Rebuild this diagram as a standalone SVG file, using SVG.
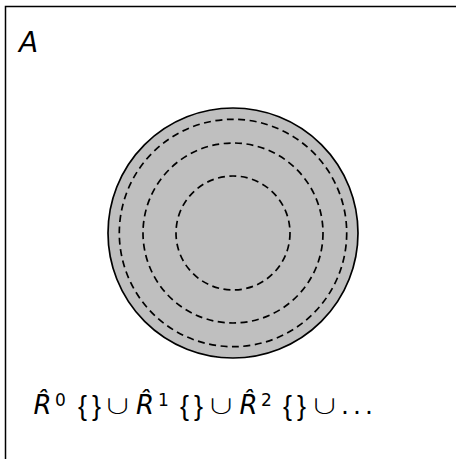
<svg xmlns="http://www.w3.org/2000/svg" width="456" height="459" viewBox="0 0 456 459">
<style>
.frame{fill:none;stroke:#000;stroke-width:1.5}
.disk{fill:#bfbfbf;stroke:#000;stroke-width:1.7}
.ring{fill:none;stroke:#000;stroke-width:1.7;stroke-dasharray:7 4.5}
.t{font-family:"DejaVu Sans",sans-serif;font-size:26px;fill:#000}
.i{font-style:italic}
.sup{font-family:"DejaVu Sans",sans-serif;font-size:17px;fill:#000}
.br{font-family:"Liberation Sans",Arial,sans-serif;font-size:27px;fill:#000}
.cup{font-family:"Noto Sans CJK SC","DejaVu Sans",sans-serif;font-size:25px;font-weight:300;fill:#000;text-anchor:middle}
.dots{font-family:"DejaVu Sans",sans-serif;font-size:25px;fill:#000}
</style>
<rect id="frame" class="frame" x="5.5" y="6.5" width="500" height="500"/>
<g id="label-A"><text class="t i" x="19" y="52" style="font-size:28px">A</text></g>
<g id="region">
<circle class="disk" cx="233" cy="233" r="125"/>
<circle class="ring" cx="233" cy="233" r="113.7"/>
<circle class="ring" cx="233" cy="233" r="90"/>
<circle class="ring" cx="233" cy="233" r="57"/>
</g>
<g id="formula">
<text class="t i" x="33.5" y="414">R̂</text>
<text class="sup" x="55" y="405.5">0</text>
<text class="br" x="78" y="415" textLength="23" lengthAdjust="spacing">{}</text>
<text class="cup" transform="translate(117.5,414) scale(1.15,0.8)">∪</text>
<text class="t i" x="136" y="414">R̂</text>
<text class="sup" x="158" y="405.5">1</text>
<text class="br" x="180" y="415" textLength="23" lengthAdjust="spacing">{}</text>
<text class="cup" transform="translate(221,414) scale(1.15,0.8)">∪</text>
<text class="t i" x="239.5" y="414">R̂</text>
<text class="sup" x="261" y="405.5">2</text>
<text class="br" x="283" y="415" textLength="23" lengthAdjust="spacing">{}</text>
<text class="cup" transform="translate(324.5,414) scale(1.15,0.8)">∪</text>
<text class="dots" x="341 353 365" y="414">...</text>
</g>
</svg>
